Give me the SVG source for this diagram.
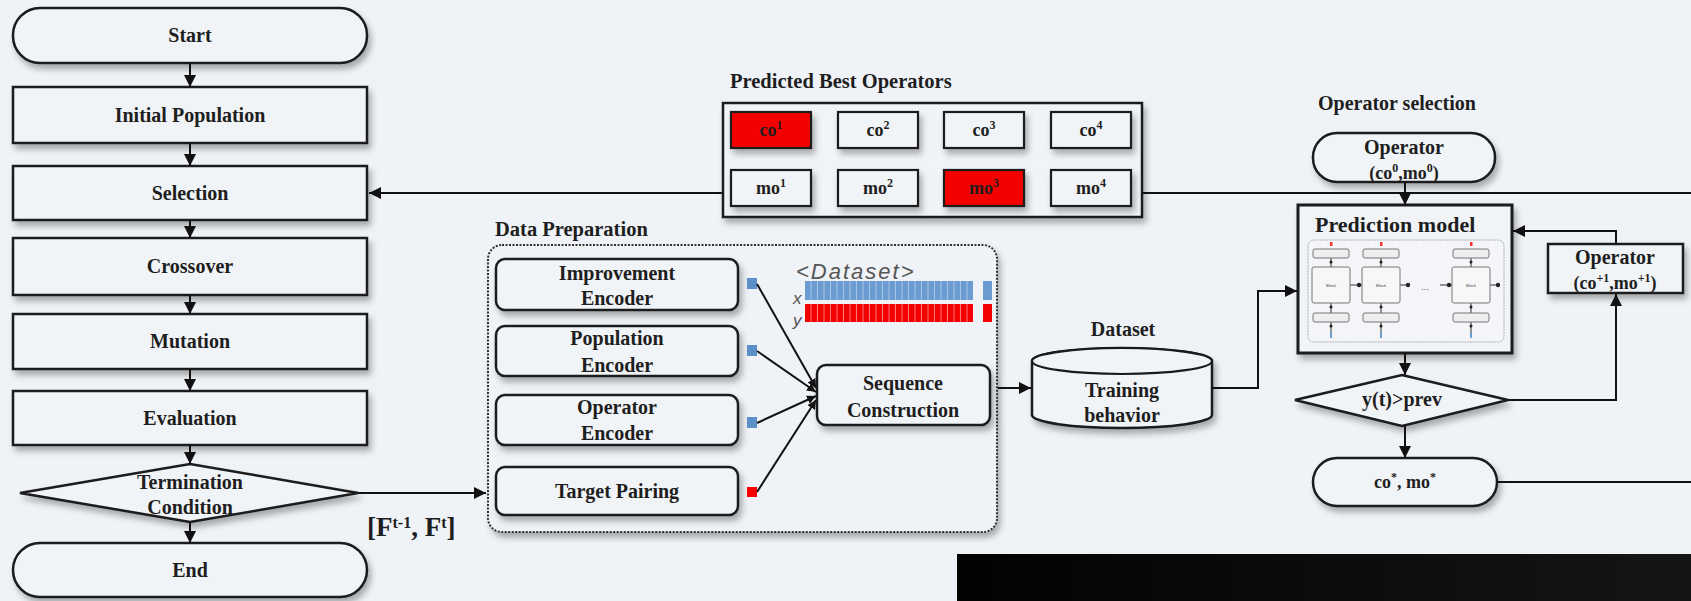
<svg xmlns="http://www.w3.org/2000/svg" width="1691" height="601" viewBox="0 0 1691 601">
<defs>
<style>
.bx{fill:#f1f4f7;stroke:#1a1a1a;stroke-width:2.5;filter:url(#sh)}
.sb{fill:#f1f4f7;stroke:#1a1a1a;stroke-width:2.2;filter:url(#sh)}
.t{font-family:"Liberation Serif","Times New Roman",serif;font-weight:bold;fill:#1e1e1e;text-anchor:middle}
.tl{font-family:"Liberation Serif","Times New Roman",serif;font-weight:bold;fill:#1e1e1e}
.f20{font-size:20px}
.f18{font-size:18px}
.ln{fill:none;stroke:#111;stroke-width:2}
.sup{font-size:12px}
.blk{fill:#f7f7f7;stroke:#777;stroke-width:1}
.lbl{fill:#eee;stroke:#777;stroke-width:1}
.tiny{font-family:"Liberation Sans",Arial,sans-serif;font-size:4px;fill:#444;text-anchor:middle}
.it{font-family:"Liberation Sans",Arial,sans-serif;font-style:italic;fill:#555}
</style>
<filter id="sh" x="-10%" y="-20%" width="130%" height="160%">
<feDropShadow dx="3" dy="5" stdDeviation="3" flood-color="#000" flood-opacity="0.3"/>
</filter>
<marker id="arr" viewBox="0 0 10 10" refX="10" refY="5" markerWidth="12" markerHeight="12" markerUnits="userSpaceOnUse" orient="auto">
<path d="M0,0 L10,5 L0,10 z" fill="#111"/>
</marker>
<marker id="arrs" viewBox="0 0 10 10" refX="10" refY="5" markerWidth="9" markerHeight="9" markerUnits="userSpaceOnUse" orient="auto">
<path d="M0,0 L10,5 L0,10 z" fill="#111"/>
</marker>
<pattern id="pb" x="805" y="0" width="6.5" height="20" patternUnits="userSpaceOnUse">
<rect width="6.5" height="20" fill="#6b9bd0"/><rect x="5.5" width="1" height="20" fill="#a9c6e6"/>
</pattern>
<pattern id="pr" x="805" y="0" width="6.5" height="20" patternUnits="userSpaceOnUse">
<rect width="6.5" height="20" fill="#f50000"/><rect x="5.5" width="1" height="20" fill="#ff7a7a"/>
</pattern>
<linearGradient id="dk" x1="0" y1="0" x2="1" y2="0">
<stop offset="0" stop-color="#020202"/><stop offset="1" stop-color="#151515"/>
</linearGradient>
</defs>
<rect width="1691" height="601" fill="#eff3f7"/>

<!-- left flowchart -->
<g id="start"><rect class="bx" x="13" y="8" width="354" height="55" rx="27"/><text class="t f20" x="190" y="42">Start</text></g>
<g id="initial"><rect class="bx" x="13" y="87" width="354" height="56"/><text class="t f20" x="190" y="122">Initial Population</text></g>
<g id="selection"><rect class="bx" x="13" y="166" width="354" height="54"/><text class="t f20" x="190" y="200">Selection</text></g>
<g id="crossover"><rect class="bx" x="13" y="238" width="354" height="57"/><text class="t f20" x="190" y="273">Crossover</text></g>
<g id="mutation"><rect class="bx" x="13" y="314" width="354" height="55"/><text class="t f20" x="190" y="348">Mutation</text></g>
<g id="evaluation"><rect class="bx" x="13" y="391" width="354" height="54"/><text class="t f20" x="190" y="425">Evaluation</text></g>
<g id="termination"><path class="bx" d="M20,493 L190,464 L358,493 L190,522 z"/><text class="t f20" x="190" y="489">Termination</text><text class="t f20" x="190" y="514">Condition</text></g>
<g id="end"><rect class="bx" x="13" y="543" width="354" height="54" rx="27"/><text class="t f20" x="190" y="577">End</text></g>
<g id="ftlabel"><text class="tl" x="367" y="536" font-size="27">[F<tspan font-size="16" baseline-shift="super">t-1</tspan>, F<tspan font-size="16" baseline-shift="super">t</tspan>]</text></g>

<!-- predicted best operators -->
<g id="pbo">
<text class="tl" x="730" y="88" font-size="20.5">Predicted Best Operators</text>
<rect class="bx" x="723" y="103" width="419" height="114"/>
<rect class="sb" x="731" y="112" width="80" height="36" style="fill:#f50000"/>
<text class="t f18" x="771" y="136">co<tspan class="sup" baseline-shift="super">1</tspan></text>
<rect class="sb" x="838" y="112" width="80" height="36"/>
<text class="t f18" x="878" y="136">co<tspan class="sup" baseline-shift="super">2</tspan></text>
<rect class="sb" x="944" y="112" width="80" height="36"/>
<text class="t f18" x="984" y="136">co<tspan class="sup" baseline-shift="super">3</tspan></text>
<rect class="sb" x="1051" y="112" width="80" height="36"/>
<text class="t f18" x="1091" y="136">co<tspan class="sup" baseline-shift="super">4</tspan></text>
<rect class="sb" x="731" y="170" width="80" height="36"/>
<text class="t f18" x="771" y="194">mo<tspan class="sup" baseline-shift="super">1</tspan></text>
<rect class="sb" x="838" y="170" width="80" height="36"/>
<text class="t f18" x="878" y="194">mo<tspan class="sup" baseline-shift="super">2</tspan></text>
<rect class="sb" x="944" y="170" width="80" height="36" style="fill:#f50000"/>
<text class="t f18" x="984" y="194">mo<tspan class="sup" baseline-shift="super">3</tspan></text>
<rect class="sb" x="1051" y="170" width="80" height="36"/>
<text class="t f18" x="1091" y="194">mo<tspan class="sup" baseline-shift="super">4</tspan></text>
</g>

<!-- data preparation -->
<g id="dataprep">
<text class="tl" x="495" y="236" font-size="20.5">Data Preparation</text>
<rect x="488" y="245" width="509" height="287" rx="14" fill="#eff3f7" stroke="#333" stroke-width="2" stroke-dasharray="2 1.5" style="filter:url(#sh)"/>
</g>
<g id="improvement"><rect class="bx" x="496" y="259" width="242" height="51" rx="9"/><text class="t f20" x="617" y="280">Improvement</text><text class="t f20" x="617" y="305">Encoder</text><rect x="747" y="278" width="10" height="11" fill="#5b90c8"/></g>
<g id="population"><rect class="bx" x="496" y="326" width="242" height="50" rx="9"/><text class="t f20" x="617" y="345">Population</text><text class="t f20" x="617" y="372">Encoder</text><rect x="747" y="345" width="10" height="11" fill="#5b90c8"/></g>
<g id="operatorenc"><rect class="bx" x="496" y="395" width="242" height="50" rx="9"/><text class="t f20" x="617" y="414">Operator</text><text class="t f20" x="617" y="440">Encoder</text><rect x="747" y="417" width="10" height="11" fill="#5b90c8"/></g>
<g id="target"><rect class="bx" x="496" y="467" width="242" height="48" rx="9"/><text class="t f20" x="617" y="498">Target Pairing</text><rect x="747" y="487" width="10" height="10" fill="#f50000"/></g>
<g id="seqcon"><rect class="bx" x="817" y="365" width="173" height="60" rx="9"/><text class="t f20" x="903" y="390">Sequence</text><text class="t f20" x="903" y="417">Construction</text></g>
<g id="datasetviz">
<text class="it" x="796" y="279" font-size="22" letter-spacing="2">&lt;Dataset&gt;</text>
<rect x="805" y="281" width="168" height="19" fill="url(#pb)"/>
<rect x="983" y="281" width="9" height="19" fill="#6b9bd0"/>
<rect x="805" y="304" width="168" height="18" fill="url(#pr)"/>
<rect x="983" y="304" width="9" height="18" fill="#f50000"/>
<text class="it" x="793" y="304" font-size="17">x</text>
<text class="it" x="793" y="326" font-size="17">y</text>
</g>

<!-- dataset cylinder -->
<g id="dataset">
<text class="t f20" x="1123" y="336">Dataset</text>
<path class="bx" d="M1032,361 L1032,415 A90,13 0 0,0 1212,415 L1212,361 A90,13 0 0,0 1032,361 z"/>
<ellipse cx="1122" cy="361" rx="90" ry="13" fill="#f1f4f7" stroke="#1a1a1a" stroke-width="2.2"/>
<text class="t f20" x="1122" y="397">Training</text>
<text class="t f20" x="1122" y="422">behavior</text>
</g>

<!-- operator selection -->
<g id="opseltitle"><text class="tl" x="1318" y="110" font-size="20">Operator selection</text></g>
<g id="op0"><rect class="bx" x="1313" y="133" width="182" height="49" rx="24"/><text class="t f20" x="1404" y="154">Operator</text><text class="t f18" x="1404" y="179">(co<tspan class="sup" baseline-shift="super">0</tspan>,mo<tspan class="sup" baseline-shift="super">0</tspan>)</text></g>
<g id="predmodel">
<rect class="bx" x="1298" y="205" width="214" height="148" style="stroke-width:3"/>
<text class="tl" x="1315" y="232" font-size="22">Prediction model</text>
<rect x="1308" y="240" width="196" height="102" rx="6" fill="#f3f5f8" stroke="#9a9a9a" stroke-width="0.8" stroke-dasharray="2 1"/>
<g stroke="#333" stroke-width="1">
<line x1="1331" y1="258" x2="1331" y2="267"/><line x1="1381" y1="258" x2="1381" y2="267"/><line x1="1471" y1="258" x2="1471" y2="267"/>
<line x1="1331" y1="303" x2="1331" y2="313"/><line x1="1381" y1="303" x2="1381" y2="313"/><line x1="1471" y1="303" x2="1471" y2="313"/>
<line x1="1331" y1="322" x2="1331" y2="334"/><line x1="1381" y1="322" x2="1381" y2="334"/><line x1="1471" y1="322" x2="1471" y2="334"/>
<line x1="1350" y1="285" x2="1362" y2="285"/><line x1="1400" y1="285" x2="1410" y2="285"/><line x1="1440" y1="285" x2="1452" y2="285"/><line x1="1490" y1="285" x2="1500" y2="285"/>
</g>
<rect class="lbl" x="1313" y="249" width="36" height="9" rx="2"/><rect class="lbl" x="1363" y="249" width="36" height="9" rx="2"/><rect class="lbl" x="1453" y="249" width="36" height="9" rx="2"/>
<rect class="lbl" x="1313" y="313" width="36" height="9" rx="2"/><rect class="lbl" x="1363" y="313" width="36" height="9" rx="2"/><rect class="lbl" x="1453" y="313" width="36" height="9" rx="2"/>
<rect class="blk" x="1312" y="267" width="38" height="36" rx="2"/><rect class="blk" x="1362" y="267" width="38" height="36" rx="2"/><rect class="blk" x="1452" y="267" width="38" height="36" rx="2"/>
<text class="tiny" x="1331" y="287">Block</text><text class="tiny" x="1381" y="287">Block</text><text class="tiny" x="1471" y="287">Block</text>
<g fill="#222"><circle cx="1359" cy="285" r="2.2"/><circle cx="1408" cy="285" r="2.2"/><circle cx="1449" cy="285" r="2.2"/><circle cx="1498" cy="285" r="2.2"/>
<circle cx="1331" cy="262" r="1.5"/><circle cx="1381" cy="262" r="1.5"/><circle cx="1471" cy="262" r="1.5"/>
<circle cx="1331" cy="307" r="1.5"/><circle cx="1381" cy="307" r="1.5"/><circle cx="1471" cy="307" r="1.5"/>
<circle cx="1331" cy="326" r="1.5"/><circle cx="1381" cy="326" r="1.5"/><circle cx="1471" cy="326" r="1.5"/></g>
<g fill="#f33"><rect x="1330" y="242" width="2.5" height="4"/><rect x="1380" y="242" width="2.5" height="4"/><rect x="1470" y="242" width="2.5" height="4"/></g>
<g fill="#6aa0d8"><rect x="1330" y="333" width="2" height="5"/><rect x="1380" y="333" width="2" height="5"/><rect x="1470" y="333" width="2" height="5"/></g>
<text x="1425" y="290" font-family="Liberation Sans,sans-serif" font-size="9" fill="#555" text-anchor="middle">...</text>
</g>
<g id="opnext"><rect class="bx" x="1548" y="244" width="135" height="49"/><text class="t f20" x="1615" y="264">Operator</text><text class="t f18" x="1615" y="289">(co<tspan class="sup" baseline-shift="super">+1</tspan>,mo<tspan class="sup" baseline-shift="super">+1</tspan>)</text></g>
<g id="decision"><path class="bx" d="M1295,400 L1402,375 L1508,400 L1402,426 z"/><text class="t f20" x="1402" y="406">y(t)&gt;prev</text></g>
<g id="costar"><rect class="bx" x="1313" y="458" width="184" height="48" rx="24"/><text class="t f18" x="1405" y="488">co<tspan class="sup" baseline-shift="super">*</tspan>, mo<tspan class="sup" baseline-shift="super">*</tspan></text></g>

<!-- connectors -->
<g id="connectors">
<line class="ln" x1="190" y1="63" x2="190" y2="87" marker-end="url(#arr)"/>
<line class="ln" x1="190" y1="143" x2="190" y2="166" marker-end="url(#arr)"/>
<line class="ln" x1="190" y1="220" x2="190" y2="238" marker-end="url(#arr)"/>
<line class="ln" x1="190" y1="295" x2="190" y2="314" marker-end="url(#arr)"/>
<line class="ln" x1="190" y1="369" x2="190" y2="391" marker-end="url(#arr)"/>
<line class="ln" x1="190" y1="445" x2="190" y2="464" marker-end="url(#arr)"/>
<line class="ln" x1="190" y1="522" x2="190" y2="543" marker-end="url(#arr)"/>
<line class="ln" x1="358" y1="493" x2="486" y2="493" marker-end="url(#arr)"/>
<line class="ln" x1="723" y1="193" x2="369" y2="193" marker-end="url(#arr)"/>
<line class="ln" x1="1142" y1="193" x2="1691" y2="193"/>
<line class="ln" x1="1405" y1="182" x2="1405" y2="205" marker-end="url(#arr)"/>
<line class="ln" x1="757" y1="284" x2="816" y2="388" marker-end="url(#arrs)"/>
<line class="ln" x1="757" y1="351" x2="816" y2="392" marker-end="url(#arrs)"/>
<line class="ln" x1="757" y1="423" x2="816" y2="396" marker-end="url(#arrs)"/>
<line class="ln" x1="757" y1="492" x2="816" y2="400" marker-end="url(#arrs)"/>
<line class="ln" x1="998" y1="388" x2="1031" y2="388" marker-end="url(#arr)"/>
<polyline class="ln" points="1212,388 1258,388 1258,291 1297,291" marker-end="url(#arr)"/>
<line class="ln" x1="1405" y1="353" x2="1405" y2="375" marker-end="url(#arr)"/>
<line class="ln" x1="1405" y1="426" x2="1405" y2="458" marker-end="url(#arr)"/>
<polyline class="ln" points="1508,400 1616,400 1616,294" marker-end="url(#arr)"/>
<polyline class="ln" points="1616,244 1616,231 1513,231" marker-end="url(#arr)"/>
<line class="ln" x1="1497" y1="482" x2="1691" y2="482"/>
</g>

<rect id="banner" x="957" y="554" width="734" height="47" fill="url(#dk)"/>
</svg>
